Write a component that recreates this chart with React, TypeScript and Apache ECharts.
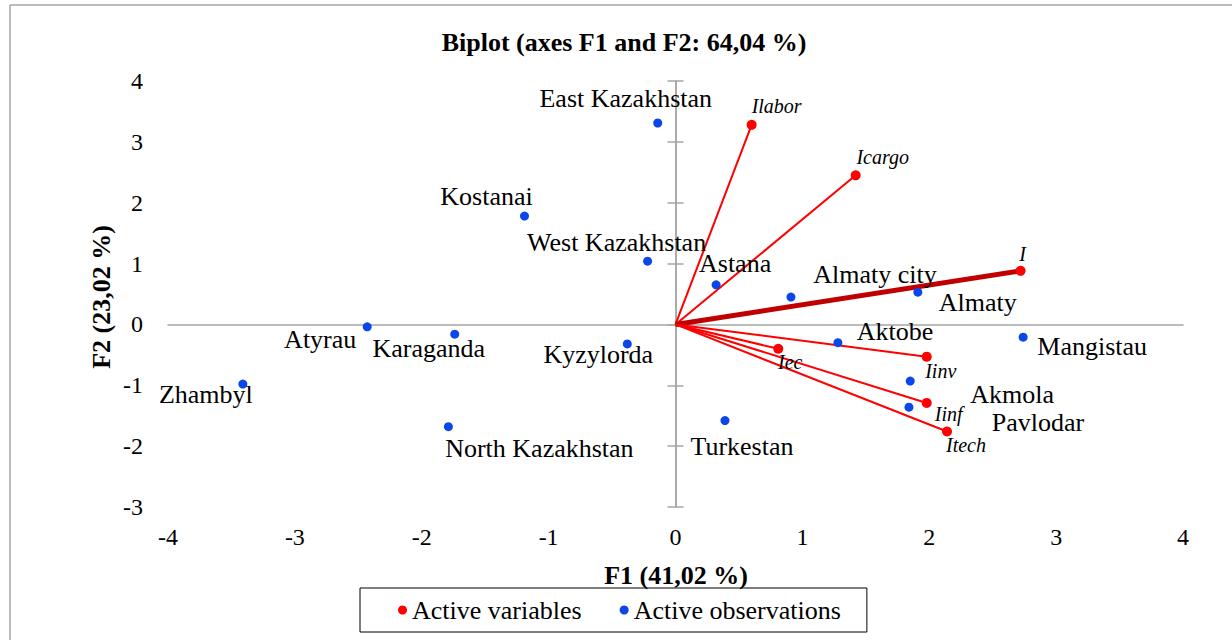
import React, { useEffect, useRef } from "react";
import * as echarts from "echarts";

// ---- Data ----
const obsNames = [
  "East Kazakhstan", "Kostanai", "West Kazakhstan", "Astana", "Almaty city", "Almaty",
  "Mangistau", "Aktobe", "Akmola", "Pavlodar", "Turkestan", "Kyzylorda",
  "Karaganda", "Atyrau", "Zhambyl", "North Kazakhstan",
];
const obsF1 = [-0.14, -1.19, -0.22, 0.32, 0.91, 1.91, 2.74, 1.28, 1.85, 1.84, 0.39, -0.38, -1.74, -2.43, -3.41, -1.79];
const obsF2 = [3.31, 1.78, 1.04, 0.65, 0.45, 0.53, -0.21, -0.30, -0.93, -1.36, -1.58, -0.32, -0.16, -0.04, -0.98, -1.68];

const varNames = ["Ilabor", "Icargo", "I", "Iec", "Iinv", "Iinf", "Itech"];
const varF1 = [0.60, 1.42, 2.72, 0.81, 1.98, 1.98, 2.14];
const varF2 = [3.28, 2.45, 0.88, -0.40, -0.53, -1.29, -1.76];

const xMin = -4, xMax = 4, yMin = -3, yMax = 4, tickStep = 1;

const titleText = "Biplot (axes F1 and F2: 64,04 %)";
const xTitle = "F1 (41,02 %)";
const yTitle = "F2 (23,02 %)";
const legendNames = ["Active variables", "Active observations"];

// ---- Styles (label offsets in px) ----
const obsLabelOffset: Record<string, [number, number]> = {
  "East Kazakhstan": [-32, -24],
  "Kostanai": [-38, -20],
  "West Kazakhstan": [-31, -19],
  "Astana": [19, -21],
  "Almaty city": [84, -23],
  "Almaty": [60, 10],
  "Mangistau": [69, 9],
  "Aktobe": [57, -11],
  "Akmola": [102, 13],
  "Pavlodar": [129, 15],
  "Turkestan": [17, 26],
  "Kyzylorda": [-29, 11],
  "Karaganda": [-26, 14],
  "Atyrau": [-47, 13],
  "Zhambyl": [-37, 10],
  "North Kazakhstan": [91, 22],
};
const varLabelOffset: Record<string, [number, number]> = {
  Ilabor: [25, -19],
  Icargo: [27, -18],
  I: [2, -17],
  Iec: [12, 13],
  Iinv: [14, 14],
  Iinf: [22, 11],
  Itech: [19, 13],
};

const FONT = "Liberation Serif";
const GRAY = "#A6A6A6";
const BLUE = "#0B47E8";
const RED = "#FF0000";
const DARKRED = "#C00000";

export default function App() {
  const ref = useRef<HTMLDivElement>(null);

  useEffect(() => {
    if (!ref.current) return;
    const chart = echarts.init(ref.current, undefined, { renderer: "svg" });

    const obsData = obsNames.map((n, i) => ({
      name: n,
      value: [obsF1[i], obsF2[i]],
      label: { offset: obsLabelOffset[n] || [0, 0] },
    }));
    const varData = varNames.map((n, i) => ({
      name: n,
      value: [varF1[i], varF2[i]],
      label: { offset: varLabelOffset[n] || [0, 0] },
    }));
    const lineData = varNames.map((n, i) => ({
      coords: [[0, 0], [varF1[i], varF2[i]]],
      lineStyle: n === "I"
        ? { color: DARKRED, width: 5, opacity: 1 }
        : { color: RED, width: 2, opacity: 1 },
    }));

    const baseVal = { type: "value", min: xMin, max: xMax, interval: tickStep, splitLine: { show: false } };
    const baseY = { type: "value", min: yMin, max: yMax, interval: tickStep, splitLine: { show: false } };

    const option: any = {
      animation: false,
      backgroundColor: "#fff",
      textStyle: { fontFamily: FONT },
      grid: { left: 168, right: 49, top: 81, bottom: 133 },
      xAxis: [
        {
          ...baseVal,
          position: "bottom",
          axisLine: { show: true, onZero: true, lineStyle: { color: GRAY, width: 1.5 } },
          axisTick: { show: false },
          axisLabel: { show: false },
        },
        {
          ...baseVal,
          position: "bottom",
          axisLine: { show: false, onZero: false },
          axisTick: { show: false },
          axisLabel: { show: true, fontFamily: FONT, fontSize: 24, color: "#000", margin: 18 },
        },
      ],
      yAxis: [
        {
          ...baseY,
          position: "left",
          axisLine: { show: true, onZero: true, lineStyle: { color: GRAY, width: 1.5 } },
          axisTick: { show: true, inside: false, length: 8, lineStyle: { color: GRAY, width: 1.5 } },
          axisLabel: { show: false },
        },
        {
          ...baseY,
          position: "right",
          axisLine: { show: true, onZero: true, lineStyle: { color: GRAY, width: 1.5 } },
          axisTick: { show: true, inside: false, length: 8, lineStyle: { color: GRAY, width: 1.5 } },
          axisLabel: { show: false },
        },
        {
          ...baseY,
          position: "left",
          axisLine: { show: false, onZero: false },
          axisTick: { show: false },
          axisLabel: { show: true, fontFamily: FONT, fontSize: 24, color: "#000", margin: 25 },
        },
      ],
      legend: {
        left: 360,
        top: 588,
        data: legendNames,
        icon: "circle",
        itemWidth: 9,
        itemHeight: 9,
        itemGap: 38,
        padding: [9, 26, 9, 38],
        borderColor: "#000",
        borderWidth: 1,
        selectedMode: false,
        itemStyle: { opacity: 1 },
        textStyle: { fontFamily: FONT, fontSize: 26, color: "#000" },
      },
      series: [
        {
          name: "vectors",
          type: "lines",
          coordinateSystem: "cartesian2d",
          xAxisIndex: 0,
          yAxisIndex: 0,
          symbol: "none",
          lineStyle: { opacity: 1 },
          data: lineData,
          z: 2,
        },
        {
          name: legendNames[0],
          type: "scatter",
          xAxisIndex: 0,
          yAxisIndex: 0,
          symbol: "circle",
          symbolSize: 10,
          itemStyle: { color: RED, opacity: 1 },
          data: varData,
          z: 3,
          label: {
            show: true,
            position: "inside",
            formatter: "{b}",
            fontFamily: FONT,
            fontStyle: "italic",
            fontSize: 20,
            color: "#000",
          },
        },
        {
          name: legendNames[1],
          type: "scatter",
          xAxisIndex: 0,
          yAxisIndex: 0,
          symbol: "circle",
          symbolSize: 9,
          itemStyle: { color: BLUE, opacity: 1 },
          data: obsData,
          z: 4,
          label: {
            show: true,
            position: "inside",
            formatter: "{b}",
            fontFamily: FONT,
            fontSize: 26,
            color: "#000",
          },
        },
      ],
      graphic: [
        { type: "line", shape: { x1: 10, y1: 5, x2: 1232, y2: 5 }, style: { stroke: GRAY, lineWidth: 1.5 } },
        { type: "line", shape: { x1: 10, y1: 5, x2: 10, y2: 640 }, style: { stroke: GRAY, lineWidth: 1.5 } },
        {
          type: "text",
          x: 624,
          y: 42,
          style: {
            text: titleText,
            fontFamily: FONT,
            fontWeight: "bold",
            fontSize: 26,
            fill: "#000",
            textAlign: "center",
            textVerticalAlign: "middle",
          },
        },
        {
          type: "text",
          x: 676,
          y: 575,
          style: {
            text: xTitle,
            fontFamily: FONT,
            fontWeight: "bold",
            fontSize: 26,
            fill: "#000",
            textAlign: "center",
            textVerticalAlign: "middle",
          },
        },
        {
          type: "text",
          x: 101,
          y: 297,
          rotation: Math.PI / 2,
          style: {
            text: yTitle,
            fontFamily: FONT,
            fontWeight: "bold",
            fontSize: 26,
            fill: "#000",
            textAlign: "center",
            textVerticalAlign: "middle",
          },
        },
      ],
    };

    chart.setOption(option);
    return () => chart.dispose();
  }, []);

  return (
    <div
      ref={ref}
      style={{ position: "fixed", left: 0, top: 0, width: 1232, height: 640, background: "#fff" }}
    />
  );
}
